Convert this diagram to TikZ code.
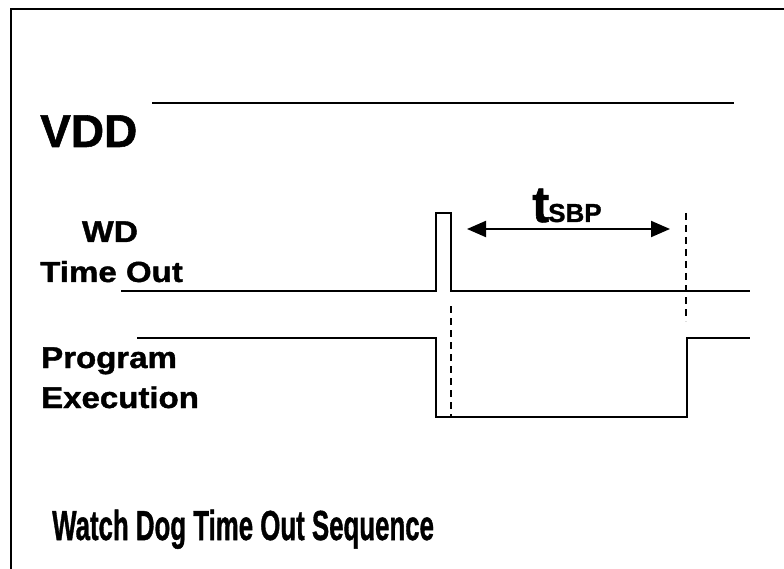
\documentclass[tikz,border=0pt]{standalone}
\usepackage{fontspec}
\setmainfont{Liberation Sans}
\newfontfamily\heavyfont[FakeBold=1.2]{Liberation Sans Bold}
\usetikzlibrary{arrows.meta}
\begin{document}
\begin{tikzpicture}[x=1pt,y=-1pt,
  sig/.style={line width=2pt},
  dsh/.style={line width=1.8pt,dash pattern=on 7pt off 5pt},
  lbl/.style={inner sep=0pt,font=\heavyfont},
  dim/.style={line width=2pt,{Triangle[length=19pt,width=16pt]}-{Triangle[length=19pt,width=16pt]}}]
\useasboundingbox (0,0) rectangle (784,569);
% frame
\draw[line width=2pt] (784,9) -- (11,9) -- (11,569);
% VDD
\node[lbl,anchor=base west,font=\heavyfont\fontsize{46}{46}\selectfont] (vdd) at (40,147) {VDD};
\coordinate (v0) at (152,103);
\coordinate (v1) at (734,103);
\draw[sig] (v0) -- (v1);
% WD time out
\node[lbl,anchor=base,font=\heavyfont\fontsize{30}{30}\selectfont] (wd) at (110,242) {\scalebox{1.12}[1]{WD}};
\node[lbl,anchor=base west,font=\heavyfont\fontsize{29}{29}\selectfont] (to) at (40,282) {\scalebox{1.14}[1]{Time Out}};
\coordinate (w0) at (121,291);
\coordinate (w1) at (436,291);
\coordinate (w2) at (436,213);
\coordinate (w3) at (451,213);
\coordinate (w4) at (451,291);
\coordinate (w5) at (750,291);
\draw[sig] (w0) -- (w1) -- (w2) -- (w3) -- (w4) -- (w5);
% program execution
\node[lbl,anchor=base west,font=\heavyfont\fontsize{30}{30}\selectfont] (pg) at (41,368) {\scalebox{1.1}[1]{Program}};
\node[lbl,anchor=base west,font=\heavyfont\fontsize{30}{30}\selectfont] (ex) at (41,408) {\scalebox{1.1}[1]{Execution}};
\coordinate (p0) at (137,338);
\coordinate (p1) at (436,338);
\coordinate (p2) at (436,417);
\coordinate (p3) at (687,417);
\coordinate (p4) at (687,338);
\coordinate (p5) at (750,338);
\draw[sig] (p0) -- (p1) -- (p2) -- (p3) -- (p4) -- (p5);
% dashed markers
\coordinate (d0) at (451,306);
\coordinate (d1) at (451,417);
\coordinate (d2) at (686,213);
\coordinate (d3) at (686,321);
\draw[dsh] (d0) -- (d1);
\draw[dsh] (d2) -- (d3);
% tSBP
\coordinate (a0) at (467,229);
\coordinate (a1) at (670,229);
\draw[dim] (a0) -- (a1);
\node[lbl,anchor=base west] (tsbp) at (532,222) {\fontsize{51}{51}\selectfont t\kern-1pt\fontsize{26}{26}\selectfont SBP};
% title
\node[lbl,anchor=base west,font=\heavyfont\fontsize{42}{42}\selectfont] (title) at (52,540) {\scalebox{0.615}[1]{Watch Dog Time Out Sequence}};
\end{tikzpicture}
\end{document}
